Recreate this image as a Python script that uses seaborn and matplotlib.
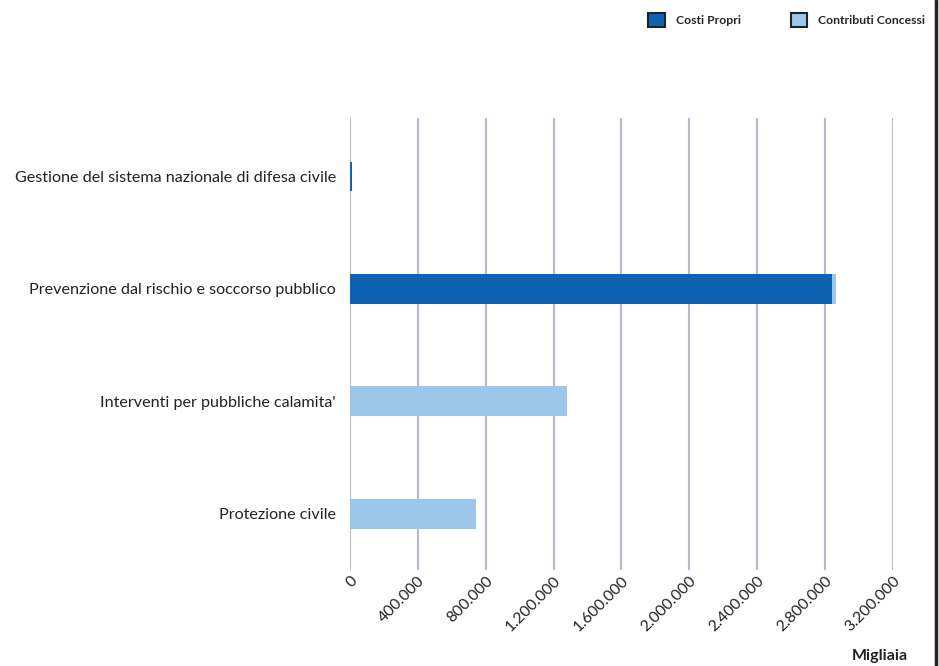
import numpy as np
import pandas as pd
import matplotlib
matplotlib.use("Agg")
import matplotlib.pyplot as plt
import seaborn as sns
from matplotlib.patches import Patch
from matplotlib.lines import Line2D
from matplotlib.ticker import FuncFormatter

categories = [
    "Gestione del sistema nazionale di difesa civile",
    "Prevenzione dal rischio e soccorso pubblico",
    "Interventi per pubbliche calamita'",
    "Protezione civile",
]
costi_propri = [14000, 2840000, 0, 0]
contributi_concessi = [0, 25000, 1280000, 742000]
x_ticks = [0, 400000, 800000, 1200000, 1600000, 2000000, 2400000, 2800000, 3200000]

dark_blue = "#0f62b0"
light_blue = "#9dc7ea"
grid_col = "#b9b5d2"

sns.set_theme(style="white")
plt.rcParams["font.family"] = ["Lato", "DejaVu Sans"]

df = pd.DataFrame({
    "categoria": categories,
    "propri": costi_propri,
    "totale": np.array(costi_propri) + np.array(contributi_concessi),
})

fig = plt.figure(figsize=(9.39, 6.66), dpi=100)
ax = fig.add_axes([0.3727, 0.1441, 0.951 - 0.3727, 0.8228 - 0.1441])

# stacked: draw total in light blue, then own costs on top
sns.barplot(data=df, y="categoria", x="totale", color=light_blue, width=0.265,
            saturation=1, ax=ax, orient="h", linewidth=0, zorder=3)
sns.barplot(data=df, y="categoria", x="propri", color=dark_blue, width=0.265,
            saturation=1, ax=ax, orient="h", linewidth=0, zorder=4)

ax.set_xlim(0, 3200000)
ax.set_ylim(3.5, -0.52)
ax.set_xticks(x_ticks)
ax.xaxis.set_major_formatter(FuncFormatter(lambda v, p: f"{int(v):,}".replace(",", ".")))
for t in ax.get_xticklabels():
    t.set_rotation(45)
    t.set_ha("right")
    t.set_rotation_mode("anchor")
ax.tick_params(axis="x", labelsize=11.3, colors="#222222", length=0, pad=3)
ax.tick_params(axis="y", labelsize=11.6, colors="#222222", length=0, pad=10)
ax.set_xlabel("")
ax.set_ylabel("")
ax.xaxis.grid(True, color=grid_col, linewidth=1.5, zorder=0)
ax.set_axisbelow(True)
for s in ax.spines.values():
    s.set_visible(False)

handles = [
    Patch(facecolor=dark_blue, edgecolor="#222222", linewidth=1.5, label="Costi Propri"),
    Patch(facecolor=light_blue, edgecolor="#222222", linewidth=1.5, label="Contributi Concessi"),
]
fig.legend(handles=handles, loc="upper right", bbox_to_anchor=(0.997, 0.997), ncol=2,
           frameon=False, prop={"size": 8.8, "weight": "bold"}, handlelength=1.35,
           handleheight=1.35, columnspacing=4.1, handletextpad=0.9)

fig.text(0.967, 0.005, "Migliaia", ha="right", va="bottom", fontsize=11.5, fontweight="bold",
         color="#222222")
fig.add_artist(Line2D([0.997, 0.997], [0, 1], color="#222222", linewidth=2.5,
                      transform=fig.transFigure))

fig.savefig("out.png", dpi=100)
